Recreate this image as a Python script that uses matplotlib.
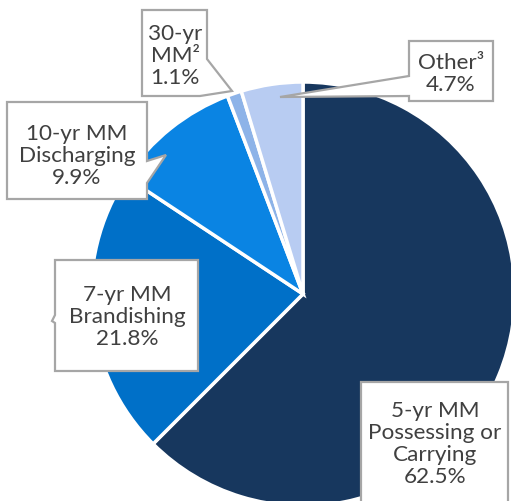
import matplotlib
matplotlib.use("Agg")
import matplotlib.pyplot as plt
from matplotlib.patches import Polygon

labels = ["5-yr MM\nPossessing or\nCarrying", "7-yr MM\nBrandishing", "10-yr MM\nDischarging", "30-yr\nMM\u00b2", "Other\u00b3"]
values = [62.5, 21.8, 9.9, 1.1, 4.7]
colors = ["#17375E", "#0070C8", "#0A84E3", "#8DB3E8", "#B8CCF2"]

W, H = 511, 502
fig = plt.figure(figsize=(W / 100, H / 100), dpi=100)
ax = fig.add_axes([0, 0, 1, 1])

def Y(y):
    return H - y

cx, cy, r = 303, 295, 212
ax.pie(values, colors=colors, startangle=90, counterclock=False,
       center=(cx, Y(cy)), radius=r, frame=True,
       wedgeprops=dict(edgecolor="white", linewidth=2.5))
ax.set_xlim(0, W)
ax.set_ylim(0, H)
ax.set_aspect("equal")
ax.axis("off")

edge = "#A6A6A6"
tc = "#404040"
fs = 16.2
fam = ["Lato", "DejaVu Sans"]

# callout shapes (pixel coordinates, y down)
shapes = [
    # 5-yr
    [(361, 383), (508, 383), (508, 505), (361, 505)],
    # 7-yr
    [(55, 261), (198, 261), (198, 372), (55, 372), (55, 324), (52, 322), (55, 316)],
    # 10-yr
    [(7, 103), (147, 103), (147, 162), (166, 156), (147, 184), (147, 200), (7, 200)],
    # 30-yr
    [(142, 11), (207, 11), (207, 60), (232, 92), (200, 97), (142, 97)],
    # Other
    [(409, 42), (493, 42), (493, 102), (409, 102), (409, 97), (280, 98), (409, 77)],
]
centers = [(435, 444), (127, 317), (77, 156), (175, 56), (451, 74)]

for shp, (tx, ty), lab, v in zip(shapes, centers, labels, values):
    pts = [(x, Y(y)) for x, y in shp]
    ax.add_patch(Polygon(pts, closed=True, facecolor="white", edgecolor=edge,
                         linewidth=1.6, zorder=5))
    ax.text(tx, Y(ty), f"{lab}\n{v:.1f}%", ha="center", va="center",
            fontsize=fs, color=tc, family=fam, linespacing=1.13, zorder=6)

fig.savefig("out.png", dpi=100)
